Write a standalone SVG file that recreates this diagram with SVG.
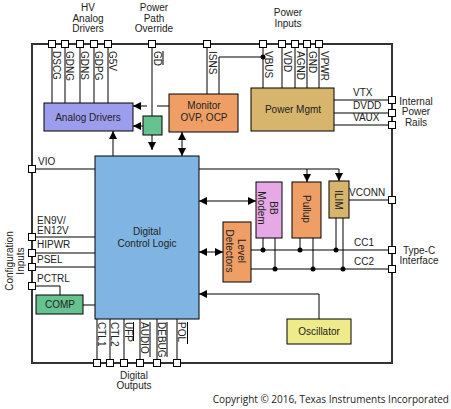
<svg xmlns="http://www.w3.org/2000/svg" width="451" height="409" viewBox="0 0 451 409">
<defs>
<style>
text{font-family:"Liberation Sans",Arial,sans-serif;font-size:10px;fill:#222}
.c{text-anchor:middle}
.w{fill:none;stroke:#000;stroke-width:1}
.b{stroke:#000;stroke-width:1}
.pin{fill:#fff;stroke:#000;stroke-width:1}
.dot{fill:#000}
</style>
<marker id="ah" viewBox="0 0 10 10" refX="10" refY="5" markerWidth="8" markerHeight="8" markerUnits="userSpaceOnUse" orient="auto-start-reverse">
<path d="M0,0 L10,5 L0,10 z" fill="#000"/>
</marker>
</defs>
<rect width="451" height="409" fill="#fff"/>

<!-- border -->
<path id="border" d="M32,44 H392 V363 H32 Z" fill="none" stroke="#333" stroke-width="2"/>

<!-- outer labels -->
<g id="labels">
<text class="c" x="88" y="11">HV</text>
<text class="c" x="88" y="22">Analog</text>
<text class="c" x="88" y="32">Drivers</text>
<text class="c" x="154" y="11">Power</text>
<text class="c" x="154" y="22">Path</text>
<text class="c" x="154" y="32">Override</text>
<text class="c" x="288" y="16">Power</text>
<text class="c" x="288" y="27">Inputs</text>
<text class="c" x="416" y="105">Internal</text>
<text class="c" x="416" y="115">Power</text>
<text class="c" x="416" y="126">Rails</text>
<text class="c" x="419" y="254">Type-C</text>
<text class="c" x="419" y="264">Interface</text>
<text class="c" x="134" y="379">Digital</text>
<text class="c" x="134" y="389">Outputs</text>
<text class="c" transform="translate(13,261) rotate(-90)">Configuration</text>
<text class="c" transform="translate(24,261) rotate(-90)">Inputs</text>
<text x="449" y="403" style="text-anchor:end;font-family:'Open Sans','Liberation Sans',sans-serif;font-size:10px">Copyright © 2016, Texas Instruments Incorporated</text>
</g>

<!-- connectors -->
<g id="connectors">
<!-- top pin lines -->
<path class="w" d="M52,44 V103 M65,44 V103 M80,44 V103 M94,44 V103 M108,44 V103"/>
<path class="w" d="M152,44 V150" marker-end="url(#ah)"/>
<path class="w" d="M207,44 V94 M263,44 V88 M282,44 V88 M295,44 V88 M307,44 V88 M319,44 V88"/>
<path class="w" d="M263,57 H219 V94"/>
<circle class="dot" cx="263" cy="57" r="2.5"/>
<!-- monitor to analog drivers -->
<path class="w" d="M169,106 H157"/>
<path class="w" d="M147,106 H133" marker-end="url(#ah)"/>
<!-- green box to analog drivers -->
<path class="w" d="M143,126 H133" marker-end="url(#ah)"/>
<!-- DCL up to analog drivers -->
<path class="w" d="M113,156 V131" marker-end="url(#ah)"/>
<!-- monitor <-> DCL -->
<path class="w" d="M182,132 V156" marker-start="url(#ah)" marker-end="url(#ah)"/>
<!-- power rails -->
<path class="w" d="M334,100 H392 M334,113 H392 M334,125 H392"/>
<!-- VIO -->
<path class="w" d="M32,169 H95"/>
<!-- DCL to pullup / ILIM -->
<path class="w" d="M199,169 H339 V181" marker-end="url(#ah)"/>
<path class="w" d="M307,169 V182" marker-end="url(#ah)"/>
<!-- DCL <-> BB Modem -->
<path class="w" d="M199,201 H256" marker-start="url(#ah)" marker-end="url(#ah)"/>
<!-- DCL <-> Level detectors -->
<path class="w" d="M199,252 H223" marker-start="url(#ah)" marker-end="url(#ah)"/>
<!-- oscillator -->
<path class="w" d="M319,319 V294 H199" marker-end="url(#ah)"/>
<!-- VCONN -->
<path class="w" d="M349,200 H392"/>
<!-- CC lines -->
<path class="w" d="M251,250 H392 M251,269 H392"/>
<path class="w" d="M263,238 V250 M275,238 V269 M300,238 V250 M313,238 V269 M336,218 V250 M343,218 V269"/>
<circle class="dot" cx="263" cy="250" r="2.5"/>
<circle class="dot" cx="300" cy="250" r="2.5"/>
<circle class="dot" cx="336" cy="250" r="2.5"/>
<circle class="dot" cx="275" cy="269" r="2.5"/>
<circle class="dot" cx="313" cy="269" r="2.5"/>
<circle class="dot" cx="343" cy="269" r="2.5"/>
<!-- config inputs -->
<path class="w" d="M32,237 H95 M32,253 H95 M32,267 H95"/>
<path class="w" d="M32,286 H60 V295"/>
<path class="w" d="M83,305 H95"/>
<!-- digital outputs -->
<path class="w" d="M97,319 V363 M110,319 V363 M124,319 V363 M140,319 V363 M157,319 V363 M177,319 V363"/>
</g>

<!-- pins -->
<g id="pins">
<rect class="pin" x="48.5" y="40.5" width="7" height="7"/>
<rect class="pin" x="61.5" y="40.5" width="7" height="7"/>
<rect class="pin" x="76.5" y="40.5" width="7" height="7"/>
<rect class="pin" x="90.5" y="40.5" width="7" height="7"/>
<rect class="pin" x="104.5" y="40.5" width="7" height="7"/>
<rect class="pin" x="148.5" y="40.5" width="7" height="7"/>
<rect class="pin" x="203.5" y="40.5" width="7" height="7"/>
<rect class="pin" x="259.5" y="40.5" width="7" height="7"/>
<rect class="pin" x="278.5" y="40.5" width="7" height="7"/>
<rect class="pin" x="291.5" y="40.5" width="7" height="7"/>
<rect class="pin" x="303.5" y="40.5" width="7" height="7"/>
<rect class="pin" x="315.5" y="40.5" width="7" height="7"/>
<rect class="pin" x="388.5" y="96.5" width="7" height="7"/>
<rect class="pin" x="388.5" y="109.5" width="7" height="7"/>
<rect class="pin" x="388.5" y="121.5" width="7" height="7"/>
<rect class="pin" x="388.5" y="196.5" width="7" height="7"/>
<rect class="pin" x="388.5" y="246.5" width="7" height="7"/>
<rect class="pin" x="388.5" y="265.5" width="7" height="7"/>
<rect class="pin" x="28.5" y="165.5" width="7" height="7"/>
<rect class="pin" x="28.5" y="233.5" width="7" height="7"/>
<rect class="pin" x="28.5" y="249.5" width="7" height="7"/>
<rect class="pin" x="28.5" y="263.5" width="7" height="7"/>
<rect class="pin" x="28.5" y="282.5" width="7" height="7"/>
<rect class="pin" x="93.5" y="359.5" width="7" height="7"/>
<rect class="pin" x="106.5" y="359.5" width="7" height="7"/>
<rect class="pin" x="120.5" y="359.5" width="7" height="7"/>
<rect class="pin" x="136.5" y="359.5" width="7" height="7"/>
<rect class="pin" x="153.5" y="359.5" width="7" height="7"/>
<rect class="pin" x="173.5" y="359.5" width="7" height="7"/>
</g>

<!-- pin labels -->
<g id="pin-labels">
<text transform="translate(53,51) rotate(90)">DSCG</text>
<text transform="translate(66,51) rotate(90)">GDNG</text>
<text transform="translate(81,51) rotate(90)">GDNS</text>
<text transform="translate(95,51) rotate(90)">GDPG</text>
<text transform="translate(109,51) rotate(90)">G5V</text>
<text transform="translate(154,51) rotate(90)">GD</text>
<path class="w" d="M163,51 V65"/>
<text transform="translate(209,51) rotate(90)">ISNS</text>
<text transform="translate(265,51) rotate(90)">VBUS</text>
<text transform="translate(284,51) rotate(90)">VDD</text>
<text transform="translate(297,51) rotate(90)">AGND</text>
<text transform="translate(309,51) rotate(90)">GND</text>
<text transform="translate(321,51) rotate(90)">VPWR</text>
<text x="353" y="96">VTX</text>
<text x="353" y="109">DVDD</text>
<text x="353" y="121">VAUX</text>
<text x="349" y="196">VCONN</text>
<text x="354" y="246">CC1</text>
<text x="354" y="265">CC2</text>
<text x="38" y="165">VIO</text>
<text x="37" y="224">EN9V/</text>
<text x="37" y="234">EN12V</text>
<text x="37" y="248">HIPWR</text>
<text x="37" y="263">PSEL</text>
<text x="37" y="282">PCTRL</text>
<text transform="translate(98,322) rotate(90)">CTL1</text>
<text transform="translate(111,322) rotate(90)">CTL2</text>
<text transform="translate(125,322) rotate(90)">UFP</text>
<text transform="translate(141,322) rotate(90)">AUDIO</text>
<text transform="translate(158,322) rotate(90)">DEBUG</text>
<text transform="translate(178,322) rotate(90)">POL</text>
<path class="w" d="M133.5,322 V341 M150,322 V357 M167,322 V357 M187.5,322 V344"/>
</g>

<!-- nodes -->
<g id="analog-drivers">
<rect x="44" y="103" width="89" height="28" fill="#9d9ded" class="b"/>
<text class="c" x="88" y="121">Analog Drivers</text>
</g>
<g id="gd-switch">
<rect x="143" y="116" width="19" height="19" fill="#66c28f" class="b"/>
</g>
<g id="monitor">
<rect x="169" y="94" width="69" height="38" fill="#ef9f66" class="b"/>
<text class="c" x="204" y="109">Monitor</text>
<text class="c" x="204" y="121">OVP, OCP</text>
</g>
<g id="power-mgmt">
<rect x="251" y="88" width="83" height="43" fill="#d7b56d" class="b"/>
<text class="c" x="293" y="113">Power Mgmt</text>
</g>
<g id="digital-control-logic">
<rect x="95" y="156" width="104" height="163" fill="#80b4e3" class="b"/>
<text class="c" x="147" y="235">Digital</text>
<text class="c" x="147" y="247">Control Logic</text>
</g>
<g id="comp">
<rect x="36" y="295" width="47" height="19" fill="#66c28f" class="b"/>
<text class="c" x="60" y="308">COMP</text>
</g>
<g id="bb-modem">
<rect x="256" y="182" width="26" height="56" fill="#e7a9e5" class="b"/>
<text class="c" transform="translate(270,208) rotate(90)">BB</text>
<text class="c" transform="translate(258,208) rotate(90)">Modem</text>
</g>
<g id="pullup">
<rect x="292" y="182" width="29" height="56" fill="#ef9f66" class="b"/>
<text class="c" transform="translate(303,209) rotate(90)">Pullup</text>
</g>
<g id="ilim">
<rect x="329" y="181" width="20" height="37" fill="#d7b56d" class="b"/>
<text class="c" transform="translate(335,200) rotate(90)">ILIM</text>
</g>
<g id="level-detectors">
<rect x="223" y="222" width="28" height="60" fill="#ef9f66" class="b"/>
<text class="c" transform="translate(238,251) rotate(90)">Level</text>
<text class="c" transform="translate(226,251) rotate(90)">Detectors</text>
</g>
<g id="oscillator">
<rect x="287" y="319" width="64" height="25" fill="#eeec8a" class="b"/>
<text class="c" x="319" y="335">Oscillator</text>
</g>
</svg>
